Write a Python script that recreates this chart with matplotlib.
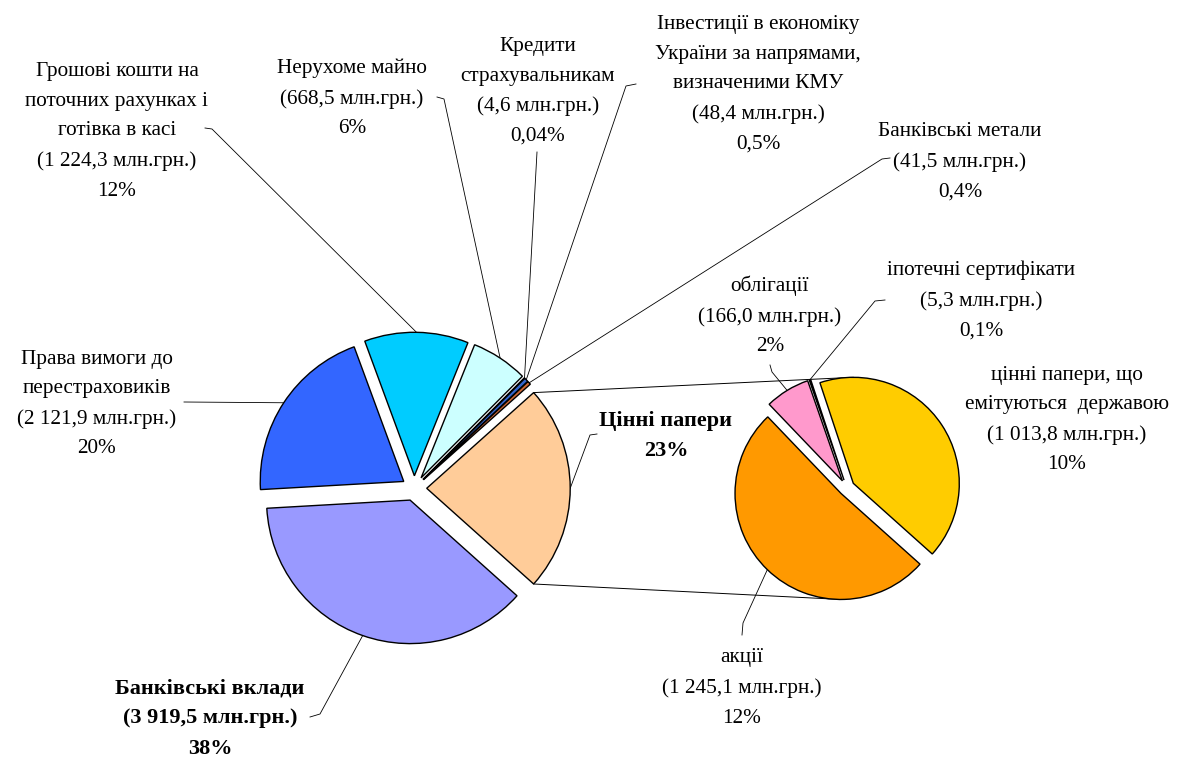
import matplotlib
matplotlib.use("Agg")
import matplotlib.pyplot as plt
from matplotlib import font_manager
import numpy as np

# ---------------- data ----------------
main_names = ["Цінні папери", "Банківські метали", "Інвестиції в економіку України",
              "Кредити страхувальникам", "Нерухоме майно",
              "Грошові кошти на поточних рахунках і готівка в касі",
              "Права вимоги до перестраховиків", "Банківські вклади"]
sec_names = ["цінні папери, що емітуються державою", "іпотечні сертифікати",
             "облігації", "акції"]
sec_values = [1013.8, 5.3, 166.0, 1245.1]
other_values = [41.5, 48.4, 4.6, 668.5, 1224.3, 2121.9, 3919.5]
main_values = [sum(sec_values)] + other_values

main_colors = ["#FFCC99", "#CC6633", "#3366CC", "#C0C0C0", "#CCFFFF",
               "#00CCFF", "#3366FF", "#9999FF"]
sec_colors = ["#FFCC00", "#993366", "#FF99CC", "#FF9900"]

main_label_text = [
    "Цінні папери\n23%",
    "Банківські метали\n(41,5 млн.грн.)\n0,4%",
    "Інвестиції в економіку\nУкраїни за напрямами,\nвизначеними КМУ\n(48,4 млн.грн.)\n0,5%",
    "Кредити\nстрахувальникам\n(4,6 млн.грн.)\n0,04%",
    "Нерухоме майно\n(668,5 млн.грн.)\n6%",
    "Грошові кошти на\nпоточних рахунках і\nготівка в касі\n(1 224,3 млн.грн.)\n12%",
    "Права вимоги до\nперестраховиків\n(2 121,9 млн.грн.)\n20%",
    "Банківські вклади\n(3 919,5 млн.грн.)\n38%",
]
sec_label_text = [
    "цінні папери, що\nемітуються  державою\n(1 013,8 млн.грн.)\n10%",
    "іпотечні сертифікати\n(5,3 млн.грн.)\n0,1%",
    "облігації\n(166,0 млн.грн.)\n2%",
    "акції\n(1 245,1 млн.грн.)\n12%",
]
main_bold = [True, False, False, False, False, False, False, True]

# ---------------- layout (pixel coords, image y downward) ----------------
W, H = 1183, 758
def Y(y):
    return H - y

main_center = (414.2, 488.3)
main_radius = 143.5
main_explode = 12.5
sec_center = (846.6, 487.7)
sec_radius = 106.0
sec_explode = 8.0

main_label_pos = [(666, 436), (960, 161.5), (758, 84.5), (538, 91.5), (352, 98.5),
                  (117, 131.5), (97, 404), (210, 718.5)]
sec_label_pos = [(1067, 420), (981, 300.5), (770, 316), (742, 688)]
main_leader = [[(597, 434), (590, 435)],
               [(890, 158), (882, 159)],
               [(636, 84), (626, 86)],
               [(537, 152)],
               [(437, 97), (444, 99)],
               [(205, 128), (212, 129)],
               [(184, 402)],
               [(310, 717), (320, 714)]]
sec_leader = [None,
              [(885, 300), (875, 301)],
              [(770, 365), (772, 372)],
              [(742, 635), (743, 623)]]

available = {f.name for f in font_manager.fontManager.ttflist}
FONT = [f for f in ["Liberation Serif", "Times New Roman", "DejaVu Serif"] if f in available]
plt.rcParams["font.family"] = "serif"
plt.rcParams["font.serif"] = FONT + ["DejaVu Serif"]
FS = 15.3
FS_BOLD = 16
LS = 1.75
LS_BOLD = 1.68

fig = plt.figure(figsize=(W / 100, H / 100), dpi=100)
ax = fig.add_axes([0, 0, 1, 1])

start = -0.5 * main_values[0] / sum(main_values) * 360.0
wprops = dict(edgecolor="black", linewidth=1.0, joinstyle="miter")
mw, _ = ax.pie(main_values, colors=main_colors, startangle=start, counterclock=True,
               radius=main_radius, center=(main_center[0], Y(main_center[1])),
               explode=[main_explode] * len(main_values), wedgeprops=wprops)
sw, _ = ax.pie(sec_values, colors=sec_colors, startangle=start, counterclock=True,
               radius=sec_radius, center=(sec_center[0], Y(sec_center[1])),
               explode=[sec_explode] * len(sec_values), wedgeprops=wprops)

def anchor(w):
    th = np.deg2rad(0.5 * (w.theta1 + w.theta2))
    cx, cy = w.center
    return (cx + w.r * np.cos(th), cy + w.r * np.sin(th))

def draw_leader(pts, w):
    if pts is None:
        return
    xs = [p[0] for p in pts]
    ys = [Y(p[1]) for p in pts]
    ax_, ay_ = anchor(w)
    xs.append(ax_)
    ys.append(ay_)
    ax.plot(xs, ys, color="black", lw=0.6, zorder=0.5)

for w, txt, pos, bold, ld in zip(mw, main_label_text, main_label_pos, main_bold, main_leader):
    ax.text(pos[0], Y(pos[1]), txt, ha="center", va="center", multialignment="center",
            fontsize=FS_BOLD if bold else FS, fontweight="bold" if bold else "normal",
            linespacing=LS_BOLD if bold else LS)
    draw_leader(ld, w)

for w, txt, pos, ld in zip(sw, sec_label_text, sec_label_pos, sec_leader):
    ax.text(pos[0], Y(pos[1]), txt, ha="center", va="center", multialignment="center",
            fontsize=FS, linespacing=LS)
    draw_leader(ld, w)

cp = mw[0]
cx, cy = cp.center
t1, t2 = np.deg2rad(cp.theta1), np.deg2rad(cp.theta2)
p_top = (cx + cp.r * np.cos(t2), cy + cp.r * np.sin(t2))
p_bot = (cx + cp.r * np.cos(t1), cy + cp.r * np.sin(t1))
top_w = sw[0]
bot_w = sw[-1]
q_top = (top_w.center[0], top_w.center[1] + top_w.r)
q_bot = (bot_w.center[0], bot_w.center[1] - bot_w.r)
ax.plot([p_top[0], q_top[0]], [p_top[1], q_top[1]], color="black", lw=0.7, zorder=0.5)
ax.plot([p_bot[0], q_bot[0]], [p_bot[1], q_bot[1]], color="black", lw=0.7, zorder=0.5)

ax.set_xlim(0, W)
ax.set_ylim(0, H)
ax.set_aspect("equal")
ax.axis("off")
fig.savefig("out.png", dpi=100, facecolor="white")
